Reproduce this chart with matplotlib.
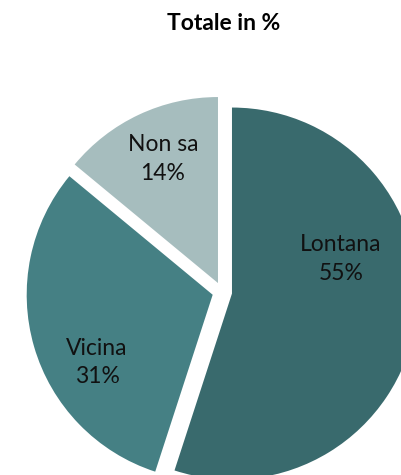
import numpy as np
import matplotlib.pyplot as plt

categorie = ['Lontana', 'Vicina', 'Non sa']
valori = [55, 31, 14]
colori = ['#396A6D', '#458084', '#A6BDBE']

fig = plt.figure(figsize=(4.01, 4.75), dpi=100)
ax = fig.add_axes([0, 0, 1, 1])

centro = (222.2, 183)
raggio = 186
# in pie() explode e' in unita' dati (qui pixel)
esplodi = 9.9

wedges, _ = ax.pie(valori, colors=colori, startangle=90, counterclock=False,
                   explode=[esplodi] * 3, radius=raggio, center=centro,
                   wedgeprops=dict(linewidth=0))

# pie() reimposta i limiti, quindi li fisso dopo
ax.set_xlim(0, 401)
ax.set_ylim(0, 475)
ax.set_aspect('equal')
ax.axis('off')

# posizione etichette (distanza relativa, angolo in gradi)
pos_etichette = [(0.615, 17.6), (0.72, -149.6), (0.73, 114.0)]
for w, nome, v, (d, ang) in zip(wedges, categorie, valori, pos_etichette):
    cx, cy = w.center
    a = np.deg2rad(ang)
    ax.text(cx + d * raggio * np.cos(a), cy + d * raggio * np.sin(a),
            f'{nome}\n{v}%', ha='center', va='center', fontsize=16.5,
            family='Lato', linespacing=1.45, color='#111111')

ax.text(224, 452, 'Totale in %', ha='center', va='center', fontsize=16.5,
        family='Lato', fontweight='bold')

fig.savefig('out.png', dpi=100)
